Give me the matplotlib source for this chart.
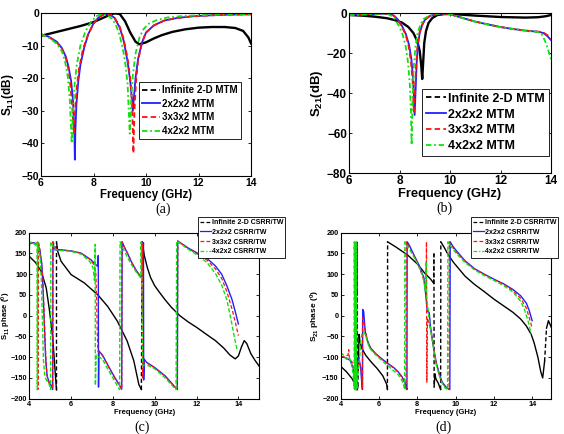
import matplotlib
matplotlib.use('Agg')
import matplotlib.pyplot as plt
from matplotlib.lines import Line2D
import numpy as np

plt.rcParams['font.family'] = ['Liberation Sans', 'DejaVu Sans']
plt.rcParams['font.weight'] = 'bold'
plt.rcParams['axes.labelweight'] = 'bold'
plt.rcParams['mathtext.fontset'] = 'custom'
plt.rcParams['mathtext.bf'] = 'Liberation Sans:bold'
plt.rcParams['mathtext.rm'] = 'Liberation Sans:bold'
plt.rcParams['mathtext.default'] = 'bf'

# ---------------- (a) S11 magnitude ----------------
a_inf_f = [6.0, 6.5, 7.0, 7.5, 8.0, 8.5, 8.8, 9.0, 9.2, 9.4, 9.6, 9.75, 10.0, 10.3, 10.6,
           11.0, 11.5, 12.0, 12.5, 13.0, 13.4, 13.7, 13.9, 14.0]
a_inf_db = [-7.0, -6.0, -5.0, -4.0, -2.8, -1.0, -0.1, -0.3, -2.5, -6.0, -8.8, -9.6, -9.0, -7.8, -6.8,
            -5.8, -5.0, -4.5, -4.3, -4.3, -4.6, -5.5, -7.5, -9.3]
a_2_f = [6.0, 6.3, 6.6, 6.8, 6.95, 7.05, 7.15, 7.22, 7.27, 7.29, 7.31, 7.35, 7.42, 7.5, 7.65, 7.8,
         8.0, 8.2, 8.4, 8.6, 8.8, 9.0, 9.15, 9.3, 9.4, 9.46, 9.5, 9.54, 9.6, 9.7, 9.85, 10.0, 10.3,
         10.7, 11.2, 11.8, 12.5, 13.2, 14.0]
a_2_db = [-6.5, -7.3, -8.8, -10.8, -13.5, -16.5, -21, -27, -36, -45, -36, -28, -21, -16, -10.5, -6.5,
          -3.2, -1.3, -0.4, -0.3, -1.5, -4.5, -8.5, -15, -21, -26, -30, -26, -20, -14, -9, -6, -3.8,
          -2.3, -1.5, -1.0, -0.7, -0.5, -0.4]
a_3_f = [6.0, 6.3, 6.6, 6.8, 6.95, 7.05, 7.13, 7.2, 7.25, 7.3, 7.36, 7.45, 7.6, 7.8, 8.0, 8.2, 8.4,
         8.6, 8.8, 9.0, 9.15, 9.3, 9.4, 9.47, 9.52, 9.56, 9.62, 9.7, 9.85, 10.0, 10.3, 10.7, 11.2,
         11.8, 12.5, 13.2, 14.0]
a_3_db = [-6.5, -7.4, -9.0, -11, -14, -17.5, -23, -30, -37, -30, -23, -17, -11, -6.5, -3.3, -1.3, -0.4,
          -0.3, -1.4, -4.2, -8, -14, -20, -28, -43, -30, -21, -14.5, -9, -6, -3.8, -2.3, -1.5,
          -1.0, -0.7, -0.5, -0.4]
a_4_f = [6.0, 6.3, 6.6, 6.8, 6.92, 7.02, 7.1, 7.17, 7.22, 7.28, 7.36, 7.5, 7.7, 7.9, 8.1, 8.3, 8.5,
         8.7, 8.85, 9.0, 9.12, 9.22, 9.3, 9.38, 9.44, 9.5, 9.6, 9.75, 9.9, 10.1, 10.4, 10.8, 11.3,
         12.0, 12.8, 14.0]
a_4_db = [-6.5, -7.6, -9.4, -11.8, -15, -19.5, -27, -40, -30, -22, -16, -10, -5.5, -2.8, -1.0, -0.3, -0.4,
          -1.8, -3.6, -7, -11, -16, -22, -37, -26, -19, -12.5, -7.5, -5.0, -3.3, -2.2, -1.4, -1.0,
          -0.7, -0.5, -0.4]

# ---------------- (b) S21 magnitude ----------------
b_inf_f = [6.0, 6.5, 7.0, 7.5, 7.8, 8.1, 8.35, 8.55, 8.7, 8.8, 8.86, 8.9, 8.94, 8.98, 9.05, 9.15,
           9.3, 9.5, 9.8, 10.2, 11.0, 12.0, 13.0, 13.5, 13.8, 14.0]
b_inf_db = [-1.0, -1.3, -1.8, -2.6, -3.5, -4.8, -7, -10, -14, -19, -26, -33, -24, -15, -9, -5,
            -2.5, -1.0, -0.5, -0.6, -1.3, -2.0, -2.3, -2.1, -1.6, -1.0]
b_2_f = [6.0, 6.5, 7.0, 7.4, 7.65, 7.8, 7.95, 8.1, 8.25, 8.38, 8.47, 8.54, 8.6, 8.64, 8.68, 8.73,
         8.8, 8.9, 9.0, 9.2, 9.5, 9.8, 10.0, 10.5, 11.0, 11.5, 12.0, 12.5, 13.0, 13.5, 13.7, 13.85, 14.0]
b_2_db = [-1.0, -0.8, -0.5, -0.3, -0.6, -1.5, -3.5, -6.5, -10.5, -16, -23, -33, -51, -38, -25, -16,
          -10, -6, -3.5, -1.5, -0.5, -0.3, -0.6, -2.5, -4.3, -5.7, -7, -8, -8.8, -9.4, -10, -11.5, -13.5]
b_3_f = [6.0, 6.5, 7.0, 7.4, 7.65, 7.8, 7.95, 8.1, 8.25, 8.37, 8.45, 8.52, 8.57, 8.62, 8.67, 8.72,
         8.8, 8.9, 9.0, 9.2, 9.5, 9.8, 10.0, 10.5, 11.0, 11.5, 12.0, 12.5, 13.0, 13.5, 13.7, 13.85, 14.0]
b_3_db = [-1.0, -0.8, -0.5, -0.3, -0.6, -1.6, -3.7, -7, -11, -17, -24, -34, -50, -36, -24, -15,
          -9.5, -5.8, -3.4, -1.5, -0.5, -0.3, -0.6, -2.5, -4.3, -5.7, -7, -8, -8.8, -9.3, -9.8, -11, -13]
b_4_f = [6.0, 6.5, 7.0, 7.3, 7.55, 7.7, 7.85, 8.0, 8.13, 8.25, 8.34, 8.41, 8.45, 8.48, 8.52, 8.57,
         8.64, 8.72, 8.82, 8.95, 9.2, 9.5, 9.8, 10.0, 10.5, 11.0, 11.5, 12.0, 12.5, 13.0, 13.5, 13.65,
         13.8, 13.9, 14.0]
b_4_db = [-1.0, -0.8, -0.5, -0.3, -0.6, -1.6, -3.7, -7, -11, -17, -25, -36, -48, -66, -42, -26,
          -16, -10, -6, -3, -1.2, -0.4, -0.3, -0.6, -2.5, -4.4, -5.8, -7.1, -8.1, -8.9, -9.5, -11,
          -15, -19, -23]

# ---------------- (c) S11 phase ----------------
c_inf_f = [4.0, 4.3, 4.57, 4.81, 4.97, 5.12, 5.2, 5.28, 5.3, 5.3, 5.36, 5.52, 6.0, 6.63, 7.26, 7.74,
           8.21, 8.68, 9.0, 9.24, 9.36, 9.4, 9.42, 9.5, 9.65, 9.8, 10.0, 10.2, 10.5, 10.8, 11.2, 11.6,
           12.0, 12.5, 12.9, 13.3, 13.6, 13.85, 14.0, 14.15, 14.28, 14.4, 14.6, 14.8, 15.0]
c_inf_ph = [143, 128, 107, 67, 11, -53, -109, -166, -178, 178, 155, 131, 99, 79, 51, 23,
            -13, -61, -109, -166, -178, 178, 172, 145, 115, 92, 72, 58, 38, 20, 0, -15,
            -28, -46, -60, -78, -95, -104, -97, -75, -60, -67, -92, -108, -122]
c_2_f = [4.0, 4.2, 4.4, 4.5, 4.6, 4.66, 4.72, 4.78, 4.85, 4.95, 5.05, 5.12, 5.13, 5.2, 5.5, 6.0, 6.47,
         6.94, 7.18, 7.27, 7.3, 7.31, 7.33, 7.5, 7.8, 8.1, 8.3, 8.42, 8.44, 8.55, 8.7, 8.9, 9.1, 9.3,
         9.38, 9.4, 9.44, 9.46, 9.47, 9.5, 9.6, 10.0, 10.5, 10.9, 11.08, 11.1, 11.6, 12.0, 12.5, 12.9,
         13.2, 13.45, 13.7, 13.85, 14.0]
c_2_ph = [173, 176, 172, 160, 125, 60, -20, -100, -145, -160, -168, -178, 178, 159, 159, 156, 151,
          135, 123, 119, 145, -172, -85, -95, -123, -150, -166, -177, 178, 165, 150, 128, 110, 96,
          92, 178, 150, 176, -155, -105, -112, -125, -145, -168, -178, 180, 163, 152, 138, 120,
          100, 72, 38, 10, -20]
c_3_f = [4.0, 4.1, 4.2, 4.3, 4.4, 4.41, 4.43, 4.44, 4.49, 4.58, 4.65, 4.73, 4.81, 4.89, 5.05, 5.12,
         5.13, 5.3, 5.5, 6.0, 6.5, 6.9, 7.1, 7.18, 7.22, 7.25, 7.28, 7.5, 7.8, 8.1, 8.3, 8.42, 8.43,
         8.55, 8.7, 8.9, 9.1, 9.3, 9.38, 9.41, 9.42, 9.47, 9.6, 10.0, 10.5, 10.9, 11.08, 11.1, 11.6,
         12.0, 12.5, 12.9, 13.2, 13.45, 13.7, 13.85, 14.0]
c_3_ph = [172, 176, 175, 173, 178, -178, -175, 178, 163, 125, 91, -29, -125, -157, -169, -176,
          178, 160, 158, 156, 150, 136, 122, 105, 40, -40, -85, -96, -124, -151, -167, -178, 178,
          165, 150, 128, 110, 95, 90, 175, -150, -110, -113, -126, -146, -169, -178, 180, 162,
          150, 134, 113, 90, 58, 15, -15, -48]
c_4_f = [4.0, 4.01, 4.02, 4.1, 4.2, 4.3, 4.37, 4.38, 4.39, 4.4, 4.45, 4.52, 4.58, 4.63, 4.68, 4.75,
         4.85, 4.93, 4.98, 5.02, 5.03, 5.2, 5.5, 6.0, 6.5, 6.9, 7.05, 7.12, 7.15, 7.16, 7.2, 7.5, 7.8,
         8.0, 8.2, 8.32, 8.34, 8.5, 8.7, 8.9, 9.1, 9.3, 9.34, 9.35, 9.42, 9.6, 10.0, 10.5, 10.9,
         11.02, 11.05, 11.6, 12.0, 12.5, 12.9, 13.2, 13.45, 13.65, 13.8, 13.95]
c_4_ph = [-170, 178, 176, 177, 174, 170, 178, -178, -176, 178, 160, 140, 80, -20, -110, -148,
          -158, -163, -170, -178, 178, 160, 157, 155, 148, 130, 115, 85, 172, -168, -95, -105, -133,
          -150, -168, -178, 178, 160, 140, 122, 106, 93, 92, 178, -120, -118, -128, -150, -172,
          -178, 180, 160, 147, 128, 102, 74, 38, -10, -50, -85]

# ---------------- (d) S21 phase ----------------
d_inf_f = [4.0, 4.3, 4.6, 4.8, 4.84, 4.85, 4.86, 4.87, 4.9, 4.93, 4.96, 5.0, 5.1, 5.3, 5.6, 5.9,
           6.2, 6.4, 6.44, 6.45, 6.9, 7.5, 8.0, 8.4, 8.7, 8.86, 8.87, 8.88, 8.92, 8.97, 9.1, 9.22,
           9.23, 9.4, 9.6, 9.9, 10.5, 11.0, 11.5, 12.0, 12.5, 13.0, 13.4, 13.7, 13.95, 14.1, 14.3,
           14.45, 14.55, 14.65, 14.75, 14.85, 15.0]
d_inf_ph = [-122, -135, -152, -170, -178, 178, 60, -178, -170, -100, -45, -60, -78, -95, -112, -127,
            -145, -165, -178, 178, 165, 146, 125, 102, 88, 78, 150, -172, -140, -152, -163, -178,
            178, 165, 148, 128, 95, 75, 58, 40, 24, 8, -8, -25, -45, -65, -100,
            -135, -150, -110, -30, -12, -28]
d_2_f = [4.0, 4.3, 4.5, 4.65, 4.75, 4.85, 4.95, 5.05, 5.12, 5.14, 5.15, 5.2, 5.28, 5.4, 5.55, 5.8,
         6.07, 6.4, 6.77, 7.0, 7.2, 7.35, 7.42, 7.46, 7.47, 7.56, 7.82, 8.08, 8.35, 8.44, 8.52, 8.62,
         8.7, 8.8, 8.9, 9.0, 9.15, 9.3, 9.5, 9.7, 9.72, 9.85, 10.05, 10.5, 11.0, 11.5, 12.0, 12.5,
         13.0, 13.4, 13.7, 13.85, 14.0]
d_2_ph = [-98, -102, -108, -125, -150, -120, -100, -130, -175, -178, 15, 10, -38, -60, -77, -90,
          -101, -113, -125, -135, -147, -160, -172, -178, 178, 172, 147, 123, 91, 51, 11, 8,
          -30, -60, -90, -115, -140, -160, -172, -178, 178, 168, 156, 132, 113, 100, 88, 77,
          63, 48, 30, 12, -12]
d_3_f = [4.0, 4.2, 4.38, 4.42, 4.46, 4.6, 4.7, 4.76, 4.78, 4.79, 4.8, 4.85, 4.95, 5.05, 5.12, 5.13,
         5.14, 5.2, 5.3, 5.4, 5.55, 5.8, 6.07, 6.4, 6.77, 7.0, 7.2, 7.33, 7.39, 7.41, 7.42, 7.52, 7.8,
         8.05, 8.3, 8.42, 8.47, 8.48, 8.5, 8.53, 8.6, 8.7, 8.8, 8.9, 9.0, 9.15, 9.3, 9.5, 9.66, 9.67,
         9.8, 10.0, 10.5, 11.0, 11.5, 12.0, 12.5, 13.0, 13.4, 13.7, 13.85, 14.0]
d_3_ph = [-100, -98, -95, -82, -105, -112, -135, -170, -178, 178, -178, -150, -110, -120, -160, -175,
          -5, -15, -40, -62, -78, -91, -102, -114, -126, -136, -149, -162, -174, -178, 178, 170, 146,
          123, 92, 68, 45, 178, -160, -5, -18, -32, -62, -92, -117, -142, -162, -173, -178, 178,
          168, 155, 131, 112, 99, 87, 76, 60, 42, 18, -5, -30]
d_4_f = [4.0, 4.1, 4.2, 4.3, 4.45, 4.55, 4.65, 4.7, 4.71, 4.74, 4.76, 4.79, 4.81, 4.84, 4.9, 5.0,
         5.05, 5.1, 5.2, 5.3, 5.5, 5.8, 6.1, 6.4, 6.7, 7.0, 7.15, 7.28, 7.34, 7.35, 7.45, 7.75, 8.0,
         8.3, 8.42, 8.46, 8.48, 8.5, 8.6, 8.7, 8.8, 8.9, 9.0, 9.15, 9.3, 9.45, 9.58, 9.6, 9.75, 10.0,
         10.5, 11.0, 11.5, 12.0, 12.5, 13.0, 13.4, 13.6, 13.8, 13.95]
d_4_ph = [-95, -92, -100, -105, -100, -115, -140, -175, 178, -178, 178, -178, 178, -178, -140, -95,
          -60, -45, -38, -48, -78, -93, -106, -118, -130, -142, -152, -165, -178, 178, 170, 148, 127,
          95, 60, 130, 60, 40, 0, -35, -65, -95, -120, -145, -163, -174, -178, 178, 168, 152,
          128, 110, 97, 85, 73, 57, 35, 15, -15, -45]

labels_ab = ['Infinite 2-D MTM', '2x2x2 MTM', '3x3x2 MTM', '4x2x2 MTM']
labels_cd = ['Infinite 2-D CSRR/TW', '2x2x2 CSRR/TW', '3x3x2 CSRR/TW', '4x2x2 CSRR/TW']

BLUE = '#2020ff'
RED = '#ff1010'
GREEN = '#10e010'
DASH = (0, (3, 1.8))
DASHDOT = (0, (3, 1.5, 1, 1.5))

W, H = 564, 434
fig = plt.figure(figsize=(W / 100, H / 100), dpi=100)


def add_axes(l, r, t, b):
    return fig.add_axes([l / W, 1 - b / H, (r - l) / W, (b - t) / H])


def setup(ax, xlim, ylim, xticks, yticks, fs):
    ax.set_xlim(xlim)
    ax.set_ylim(ylim)
    ax.set_xticks(xticks)
    ax.set_yticks(yticks)
    ax.tick_params(direction='in', top=True, right=True, labelsize=fs,
                   length=2.5, width=0.6, pad=1.5)
    for lab in ax.get_xticklabels() + ax.get_yticklabels():
        lab.set_fontweight('bold')
    for s in ax.spines.values():
        s.set_linewidth(0.8)


def draw_black(ax, f, p, lw, thr=65):
    # continuous parts solid, wrap jumps dashed
    f = np.asarray(f, float)
    p = np.asarray(p, float)
    jumps = set(np.where(np.abs(np.diff(p)) > thr)[0])
    ff, pp = [], []
    for i in range(len(f)):
        ff.append(f[i])
        pp.append(p[i])
        if i in jumps:
            ff.append(np.nan)
            pp.append(np.nan)
    ax.plot(ff, pp, color='k', lw=lw)
    for i in jumps:
        ax.plot(f[i:i + 2], p[i:i + 2], color='k', lw=lw, ls=DASH)


def legend(labels, x, y, fs, lw, hl, spacing):
    hs = [Line2D([], [], color='k', lw=lw, ls=DASH),
          Line2D([], [], color=BLUE, lw=lw),
          Line2D([], [], color=RED, lw=lw, ls=DASH),
          Line2D([], [], color=GREEN, lw=lw, ls=DASHDOT)]
    leg = fig.legend(hs, labels, loc='upper left', bbox_to_anchor=(x / W, 1 - y / H),
                     bbox_transform=fig.transFigure, prop={'weight': 'bold', 'size': fs},
                     fancybox=False, edgecolor='k', framealpha=1, borderpad=0.3,
                     handlelength=hl, handletextpad=0.2, labelspacing=spacing, borderaxespad=0)
    leg.get_frame().set_linewidth(0.6)


# (a)
ax = add_axes(41, 251, 13, 176)
ax.plot(a_inf_f, a_inf_db, color='k', lw=1.7)
ax.plot(a_2_f, a_2_db, color=BLUE, lw=1.3)
ax.plot(a_3_f, a_3_db, color=RED, lw=1.3, ls=DASH)
ax.plot(a_4_f, a_4_db, color=GREEN, lw=1.3, ls=DASHDOT)
setup(ax, (6, 14), (-50, 0), [6, 8, 10, 12, 14], range(-50, 1, 10), 7.5)
ax.set_xlabel('Frequency (GHz)', fontsize=8.3, labelpad=0.8)
ax.set_ylabel('S$_{11}$(dB)', fontsize=8.5)
ax.yaxis.set_label_coords(-0.12, 0.5)
legend(labels_ab, 139, 82, 7, 1.3, 1.9, 0.38)

# (b)
ax = add_axes(349, 551, 13, 173)
ax.plot(b_inf_f, b_inf_db, color='k', lw=1.7)
ax.plot(b_2_f, b_2_db, color=BLUE, lw=1.3)
ax.plot(b_3_f, b_3_db, color=RED, lw=1.3, ls=DASH)
ax.plot(b_4_f, b_4_db, color=GREEN, lw=1.3, ls=DASHDOT)
setup(ax, (6, 14), (-80, 0), [6, 8, 10, 12, 14], range(-80, 1, 20), 8.5)
ax.set_xlabel('Frequency (GHz)', fontsize=9.3, labelpad=0.5)
ax.set_ylabel('S$_{21}$(dB)', fontsize=9.5)
ax.yaxis.set_label_coords(-0.12, 0.5)
legend(labels_ab, 422, 89, 9, 1.3, 1.6, 0.3)

# (c)
ax = add_axes(29.3, 259.3, 232.7, 398.7)
draw_black(ax, c_inf_f, c_inf_ph, 1.0)
ax.plot(c_2_f, c_2_ph, color=BLUE, lw=1.0)
ax.plot(c_3_f, c_3_ph, color=RED, lw=0.9, ls=DASH)
ax.plot(c_4_f, c_4_ph, color=GREEN, lw=1.0, ls=(0, (3, 1.5)))
setup(ax, (4, 15), (-200, 200), [4, 6, 8, 10, 12, 14], range(-200, 201, 50), 5.3)
ax.set_xlabel('Frequency (GHz)', fontsize=5.5, labelpad=1)
ax.set_ylabel('S$_{11}$ phase ($^{0}$)', fontsize=5.6)
ax.yaxis.set_label_coords(-0.072, 0.5)
legend(labels_cd, 198, 217, 5, 0.9, 1.5, 0.4)

# (d)
ax = add_axes(340.7, 551.3, 232.7, 398.7)
draw_black(ax, d_inf_f, d_inf_ph, 1.0)
ax.plot(d_2_f, d_2_ph, color=BLUE, lw=1.0)
ax.plot(d_3_f, d_3_ph, color=RED, lw=0.9, ls=DASH)
ax.plot(d_4_f, d_4_ph, color=GREEN, lw=1.0, ls=(0, (3, 1.5)))
setup(ax, (4, 15), (-200, 200), [4, 6, 8, 10, 12, 14], range(-200, 201, 50), 5.3)
ax.set_xlabel('Frequency (GHz)', fontsize=5.5, labelpad=1)
ax.set_ylabel('S$_{21}$ phase ($^{0}$)', fontsize=6.0)
ax.yaxis.set_label_coords(-0.09, 0.5)
legend(labels_cd, 471, 217, 5, 0.9, 1.5, 0.4)

# panel captions
for txt, x, y in [('(a)', 163, 209), ('(b)', 444, 208), ('(c)', 142, 427), ('(d)', 444, 427)]:
    fig.text(x / W, 1 - y / H, txt, family=['Liberation Serif', 'DejaVu Serif'],
             weight='normal', fontsize=10, ha='center', va='center')

fig.savefig('out.png', dpi=100)
